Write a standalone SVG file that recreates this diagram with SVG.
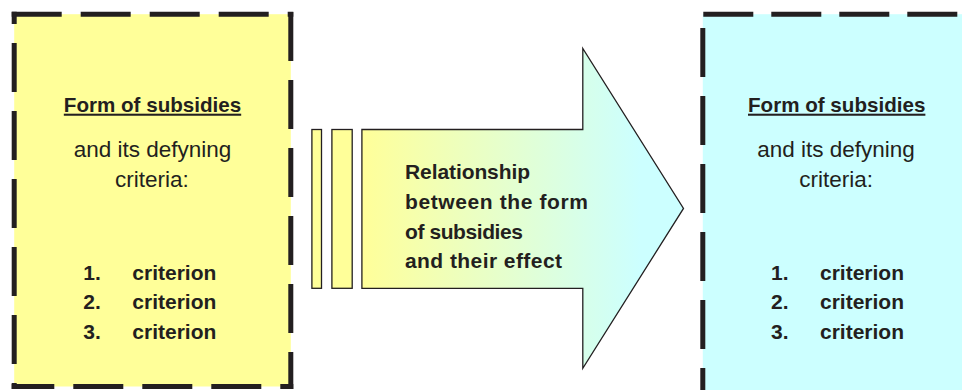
<svg xmlns="http://www.w3.org/2000/svg" width="962" height="390" viewBox="0 0 962 390">
<defs>
<linearGradient id="arrowGrad" gradientUnits="userSpaceOnUse" x1="362" y1="0" x2="640" y2="0">
<stop offset="0" stop-color="#FFFF99"/>
<stop offset="0.5" stop-color="#E6FFCC"/>
<stop offset="1" stop-color="#CCFFFF"/>
</linearGradient>
</defs>
<style>
.dash{fill:none;stroke:#231F20;stroke-width:5;stroke-linecap:butt;stroke-dasharray:49 19}
.t{font-family:"Liberation Sans",Arial,sans-serif;fill:#231F20}
.h{font-size:20.6px;font-weight:bold;text-anchor:middle;text-decoration:underline}
.r{font-size:22.5px;text-anchor:middle}
.li{font-size:21px;font-weight:bold}
.ar{font-size:21px;font-weight:bold}
.thin{stroke:#231F20;stroke-width:1.3}
</style>
<rect width="962" height="390" fill="#FFFFFF"/>
<g id="left-box">
<rect x="14.2" y="14.2" width="276.6" height="372.3" fill="#FFFF99"/>
<path class="dash" d="M11.7 14.2H293.3" style="stroke-dasharray:50 19"/>
<path class="dash" d="M290.8 12V389"/>
<path class="dash" d="M293.3 386.5H11.7" style="stroke-dasharray:50 19;stroke-dashoffset:37"/>
<path class="dash" d="M14.2 389V11.7" style="stroke-dashoffset:43"/>
<text class="t h" x="152.5" y="111.7">Form of subsidies</text>
<text class="t r" x="152.5" y="157">and its defyning</text>
<text class="t r" x="152" y="186.8">criteria:</text>
<text class="t li" x="83.3" y="280">1.</text>
<text class="t li" x="132.3" y="280">criterion</text>
<text class="t li" x="83.3" y="309.3">2.</text>
<text class="t li" x="132.3" y="309.3">criterion</text>
<text class="t li" x="83.3" y="338.5">3.</text>
<text class="t li" x="132.3" y="338.5">criterion</text>
</g>
<g id="right-box">
<rect x="702.8" y="14.2" width="270" height="380" fill="#CCFFFF"/>
<path class="dash" d="M703.3 14.2H970" style="stroke-dasharray:50 18"/>
<path class="dash" d="M702.8 12V396" style="stroke-dashoffset:52"/>
<path class="dash" d="M703 392.5H970" style="stroke-dashoffset:24"/>
<text class="t h" x="836.7" y="111.7">Form of subsidies</text>
<text class="t r" x="836" y="157">and its defyning</text>
<text class="t r" x="836.2" y="186.8">criteria:</text>
<text class="t li" x="771" y="280">1.</text>
<text class="t li" x="820" y="280">criterion</text>
<text class="t li" x="771" y="309.3">2.</text>
<text class="t li" x="820" y="309.3">criterion</text>
<text class="t li" x="771" y="338.5">3.</text>
<text class="t li" x="820" y="338.5">criterion</text>
</g>
<g id="relationship-arrow">
<rect class="thin" x="311.9" y="129.5" width="9.6" height="158.8" fill="#FFFF99"/>
<rect class="thin" x="331.9" y="129.5" width="20.3" height="158.8" fill="#FFFF99"/>
<polygon class="thin" points="361.9,129.5 582.8,129.5 582.8,48.5 683.5,208.4 582.8,368.3 582.8,288.3 361.9,288.3" fill="url(#arrowGrad)" stroke-linejoin="miter"/>
<text class="t ar" x="405" y="179.3" textLength="125" lengthAdjust="spacing">Relationship</text>
<text class="t ar" x="405" y="209.3" textLength="183" lengthAdjust="spacing">between the form</text>
<text class="t ar" x="405" y="238.6" textLength="118" lengthAdjust="spacing">of subsidies</text>
<text class="t ar" x="405" y="268.3" textLength="157" lengthAdjust="spacing">and their effect</text>
</g>
<g id="connectors"></g>
</svg>
